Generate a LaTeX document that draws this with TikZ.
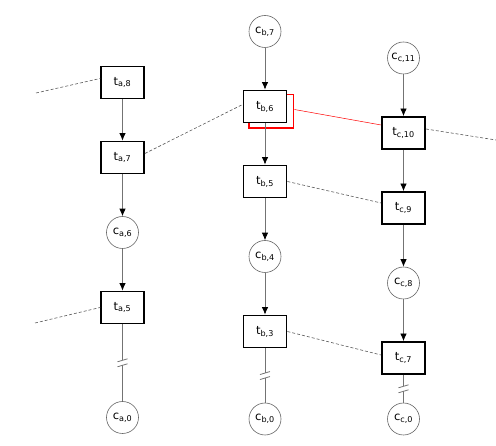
\documentclass[tikz,border=0pt]{standalone}
\usepackage{fontspec}
\setmainfont{DejaVu Sans}
\usetikzlibrary{arrows.meta,positioning,calc,backgrounds}

\begin{document}
\begin{tikzpicture}[
    x=1pt, y=-1pt,
    font=\fontsize{11.5}{13}\selectfont,
    node distance=75pt, on grid,
    tbox/.style={rectangle, draw=black, line width=1.8pt, fill=white, minimum width=43pt, minimum height=32pt, inner sep=0pt},
    cnode/.style={circle, draw=black!60, line width=0.6pt, fill=white, minimum size=32pt, inner sep=0pt},
    arr/.style={draw=black!55, line width=0.8pt, -{Latex[length=7.5pt, width=6.5pt, black]}},
    link/.style={draw=black!55, line width=0.8pt},
    cross/.style={draw=black!65, line width=0.6pt, dash pattern=on 3pt off 2pt}
  ]
    \useasboundingbox (0,0) rectangle (496,446);
    % column a
    \node[tbox] (ta8) at (122.5,82.5) {t\textsubscript{a,8}};
    \node[tbox, below=of ta8] (ta7) {t\textsubscript{a,7}};
    \node[cnode, below=of ta7] (ca6) {c\textsubscript{a,6}};
    \node[tbox, below=of ca6] (ta5) {t\textsubscript{a,5}};
    \node[cnode, below=110pt of ta5] (ca0) {c\textsubscript{a,0}};
    % column b
    \node[cnode] (cb7) at (265,31.5) {c\textsubscript{b,7}};
    \node[tbox, below=of cb7] (tb6) {t\textsubscript{b,6}};
    \node[tbox, below=of tb6] (tb5) {t\textsubscript{b,5}};
    \node[cnode, below=of tb5] (cb4) {c\textsubscript{b,4}};
    \node[tbox, below=of cb4] (tb3) {t\textsubscript{b,3}};
    \node[cnode, below=87.5pt of tb3] (cb0) {c\textsubscript{b,0}};
    % column c
    \node[cnode] (cc11) at (403.5,58) {c\textsubscript{c,11}};
    \node[tbox, below=of cc11] (tc10) {t\textsubscript{c,10}};
    \node[tbox, below=of tc10] (tc9) {t\textsubscript{c,9}};
    \node[cnode, below=of tc9] (cc8) {c\textsubscript{c,8}};
    \node[tbox, below=of cc8] (tc7) {t\textsubscript{c,7}};
    \node[cnode, below=61pt of tc7] (cc0) {c\textsubscript{c,0}};
    \coordinate (la8) at (36,93);
    \coordinate (la5) at (35,323);
    \coordinate (rc10) at (496,140);

    % red marker behind t_b,6
    \begin{scope}[on background layer]
      \draw[red, line width=1.8pt] ([shift={(6pt,-5pt)}]tb6.south west) rectangle ([shift={(6pt,-5pt)}]tb6.north east);
    \end{scope}

    \draw[arr] (ta8) -- (ta7);
    \draw[arr] (ta7) -- (ca6);
    \draw[arr] (ca6) -- (ta5);
    \draw[arr] (cb7) -- (tb6);
    \draw[arr] (tb6) -- (tb5);
    \draw[arr] (tb5) -- (cb4);
    \draw[arr] (cb4) -- (tb3);
    \draw[arr] (cc11) -- (tc10);
    \draw[arr] (tc10) -- (tc9);
    \draw[arr] (tc9) -- (cc8);
    \draw[arr] (cc8) -- (tc7);

    % broken links down to the first nodes
    \foreach \u/\v in {ta5/ca0, tb3/cb0, tc7/cc0} {
      \coordinate (m) at ($(\u.south)!0.5!(\v.north)$);
      \draw[link] (\u.south) -- ([yshift=2.5pt]m);
      \draw[link] ([yshift=-2.5pt]m) -- (\v.north);
      \draw[link] ([shift={(-5pt,1pt)}]m) -- ([shift={(5pt,4pt)}]m);
      \draw[link] ([shift={(-5pt,-4pt)}]m) -- ([shift={(5pt,-1pt)}]m);
    }

    \draw[cross] (la8) -- ([yshift=4pt]ta8.west);
    \draw[cross] ([yshift=4pt]ta7.east) -- ([yshift=2pt]tb6.west);
    \draw[red, line width=0.5pt] ([xshift=7pt,yshift=-3pt]tb6.east) -- ([yshift=8pt]tc10.west);
    \draw[cross] ([yshift=4pt]tc10.east) -- (rc10);
    \draw[cross] (tb5.east) -- ([yshift=5pt]tc9.west);
    \draw[cross] (la5) -- (ta5.west);
    \draw[cross] (tb3.east) -- ([yshift=3pt]tc7.west);
  \end{tikzpicture}
\end{document}
